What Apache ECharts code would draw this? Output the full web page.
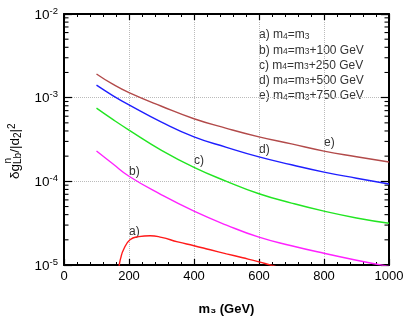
<!DOCTYPE html>
<html><head><meta charset="utf-8">
<script src="https://cdn.jsdelivr.net/npm/echarts@6/dist/echarts.min.js"></script>
<style>html,body{margin:0;padding:0;background:#fff;}#c{width:410px;height:323px;}</style>
</head><body><div id="c"></div>
<script>
// x values (m3 in GeV)
const xsMain = [100, 150, 200, 300, 400, 500, 600, 700, 800, 900, 1000];
// e) m4 = m3 + 750 GeV
const curveE = [1.92e-3, 1.45e-3, 1.15e-3, 7.9e-4, 5.6e-4, 4.3e-4, 3.4e-4, 2.8e-4, 2.3e-4, 1.97e-4, 1.70e-4];
// d) m4 = m3 + 500 GeV
const curveD = [1.41e-3, 1.06e-3, 8.2e-4, 5.1e-4, 3.4e-4, 2.55e-4, 1.96e-4, 1.58e-4, 1.29e-4, 1.09e-4, 9.3e-5];
// c) m4 = m3 + 250 GeV
const curveC = [7.5e-4, 5.5e-4, 4.1e-4, 2.35e-4, 1.47e-4, 1.0e-4, 7.1e-5, 5.5e-5, 4.4e-5, 3.65e-5, 3.15e-5];
// b) m4 = m3 + 100 GeV
const curveB = [2.3e-4, 1.62e-4, 1.15e-4, 6.9e-5, 4.4e-5, 3.0e-5, 2.15e-5, 1.7e-5, 1.38e-5, 1.14e-5, 9.6e-6];
// a) m4 = m3
const xsA = [165, 170, 174, 183, 203, 230, 265, 300, 350, 400, 450, 500, 550, 600, 634, 660];
const curveA = [8e-6, 1.0e-5, 1.19e-5, 1.52e-5, 2.0e-5, 2.18e-5, 2.24e-5, 2.14e-5, 1.89e-5, 1.70e-5, 1.52e-5, 1.36e-5, 1.22e-5, 1.09e-5, 1.0e-5, 9.4e-6];

const legendLines = [
  ['a) m', '4', '=m', '3', ''],
  ['b) m', '4', '=m', '3', '+100 GeV'],
  ['c) m', '4', '=m', '3', '+250 GeV'],
  ['d) m', '4', '=m', '3', '+500 GeV'],
  ['e) m', '4', '=m', '3', '+750 GeV']
];
const curveLabels = ['a)', 'b)', 'c)', 'd)', 'e)'];
const minorDecades = [1e-5, 1e-4, 1e-3];
const minorMult = [2, 3, 4, 5, 6, 7, 8, 9];

const FONT = 'Liberation Sans, Arial, sans-serif';
const pairs = (xs, ys) => xs.map((x, i) => [x, ys[i]]);
const minorVals = [];
minorDecades.forEach(d => minorMult.forEach(m => minorVals.push([0, m * d])));

const chart = echarts.init(document.getElementById('c'));
const lineSeries = (data, color) => ({
  type: 'line', data, smooth: true, symbol: 'none', clip: true,
  lineStyle: { color, width: 1.4 }, xAxisIndex: 0, yAxisIndex: 0, silent: true
});

const legendGraphics = legendLines.map((p, i) => ({
  type: 'text', left: 259, top: 29 + i * 15.2,
  style: {
    text: '{t|' + p[0] + '}{s|' + p[1] + '}{t|' + p[2] + '}{s|' + p[3] + '}{t|' + p[4] + '}',
    rich: {
      t: { fontSize: 12, fontFamily: FONT, fill: '#333', lineHeight: 14, verticalAlign: 'bottom' },
      s: { fontSize: 8.5, fontFamily: FONT, fill: '#333', lineHeight: 9, verticalAlign: 'bottom' }
    }
  }
}));
const labelPos = [[129, 226], [129, 166], [194, 155], [259, 144], [324, 137]];
const labelGraphics = curveLabels.map((t, i) => ({
  type: 'text', left: labelPos[i][0], top: labelPos[i][1],
  style: { text: t, fontSize: 12, fontFamily: FONT, fill: '#333' }
}));

const yName = {
  type: 'group', x: 15, y: 152, rotation: Math.PI / 2,
  children: [
    { type: 'text', x: -27, y: 0, style: {
      text: '{m|δg}{b|Lb}{m|/|d}{b|2}{m||}{p|2}',
      verticalAlign: 'middle', align: 'left',
      rich: {
        m: { fontSize: 13.5, fontFamily: FONT, fill: '#000', lineHeight: 16, verticalAlign: 'middle' },
        b: { fontSize: 10, fontFamily: FONT, fill: '#000', lineHeight: 9, verticalAlign: 'bottom' },
        p: { fontSize: 10, fontFamily: FONT, fill: '#000', lineHeight: 9, verticalAlign: 'top' }
      } } },
    { type: 'text', x: -11.5, y: -7, style: { text: 'n', fontSize: 10, fontFamily: FONT, fill: '#000', verticalAlign: 'middle', align: 'left' } }
  ]
};

const axisLineStyle = { color: '#000', width: 2 };
chart.setOption({
  animation: false,
  backgroundColor: '#fff',
  grid: { left: 64, right: 21, top: 14, bottom: 58 },
  xAxis: [{
    type: 'value', min: 0, max: 1000, interval: 200, position: 'bottom',
    name: 'm\u2083 (GeV)', nameLocation: 'middle', nameGap: 38,
    nameTextStyle: { fontSize: 13, fontWeight: 'bold', fontFamily: FONT, color: '#000' },
    axisLine: { onZero: false, lineStyle: axisLineStyle },
    axisTick: { inside: true, length: 6, lineStyle: { color: '#000', width: 1.2 } },
    minorTick: { show: true, splitNumber: 5, length: 3, lineStyle: { color: '#000', width: 1 } },
    axisLabel: { fontSize: 13, fontFamily: FONT, color: '#000', margin: 5, formatter: v => String(v) },
    splitLine: { show: true, lineStyle: { color: '#bbb', type: 'dotted', width: 1 } }
  }, {
    type: 'value', min: 0, max: 1000, interval: 200, position: 'top',
    axisLine: { onZero: false, lineStyle: axisLineStyle },
    axisTick: { inside: true, length: 6, lineStyle: { color: '#000', width: 1.2 } },
    minorTick: { show: true, splitNumber: 5, length: 3, lineStyle: { color: '#000', width: 1 } },
    axisLabel: { show: false }, splitLine: { show: false }
  }],
  yAxis: [{
    type: 'log', logBase: 10, min: 1e-5, max: 1e-2, position: 'left',
    axisLine: { onZero: false, lineStyle: axisLineStyle },
    axisTick: { inside: true, length: 8, lineStyle: { color: '#000', width: 1.2 } },
    axisLabel: {
      margin: 6,
      formatter: v => '{b|10}{s|' + Math.round(Math.log10(v)) + '}',
      rich: {
        b: { fontSize: 13.5, fontFamily: FONT, color: '#000', lineHeight: 16, verticalAlign: 'bottom' },
        s: { fontSize: 9.5, fontFamily: FONT, color: '#000', lineHeight: 10, verticalAlign: 'top' }
      }
    },
    splitLine: { show: true, lineStyle: { color: '#bbb', type: 'dotted', width: 1 } }
  }, {
    type: 'log', logBase: 10, min: 1e-5, max: 1e-2, position: 'right',
    axisLine: { onZero: false, lineStyle: axisLineStyle },
    axisTick: { inside: true, length: 8, lineStyle: { color: '#000', width: 1.2 } },
    axisLabel: { show: false }, splitLine: { show: false }
  }],
  series: [
    lineSeries(pairs(xsMain, curveE), '#b24a4a'),
    lineSeries(pairs(xsMain, curveD), '#1f1fff'),
    lineSeries(pairs(xsMain, curveC), '#22e522'),
    lineSeries(pairs(xsMain, curveB), '#ff22ff'),
    lineSeries(pairs(xsA, curveA), '#ff1a1a'),
    {
      type: 'custom', xAxisIndex: 0, yAxisIndex: 0, silent: true, data: minorVals,
      renderItem: (params, api) => {
        const v = api.value(1);
        const pL = api.coord([0, v]);
        const pR = api.coord([1000, v]);
        const st = { stroke: '#000', lineWidth: 1.1 };
        return { type: 'group', children: [
          { type: 'line', shape: { x1: pL[0], y1: pL[1], x2: pL[0] + 4.5, y2: pL[1] }, style: st },
          { type: 'line', shape: { x1: pR[0] - 4.5, y1: pR[1], x2: pR[0], y2: pR[1] }, style: st }
        ] };
      }
    }
  ],
  graphic: legendGraphics.concat(labelGraphics, [yName])
});
</script></body></html>
